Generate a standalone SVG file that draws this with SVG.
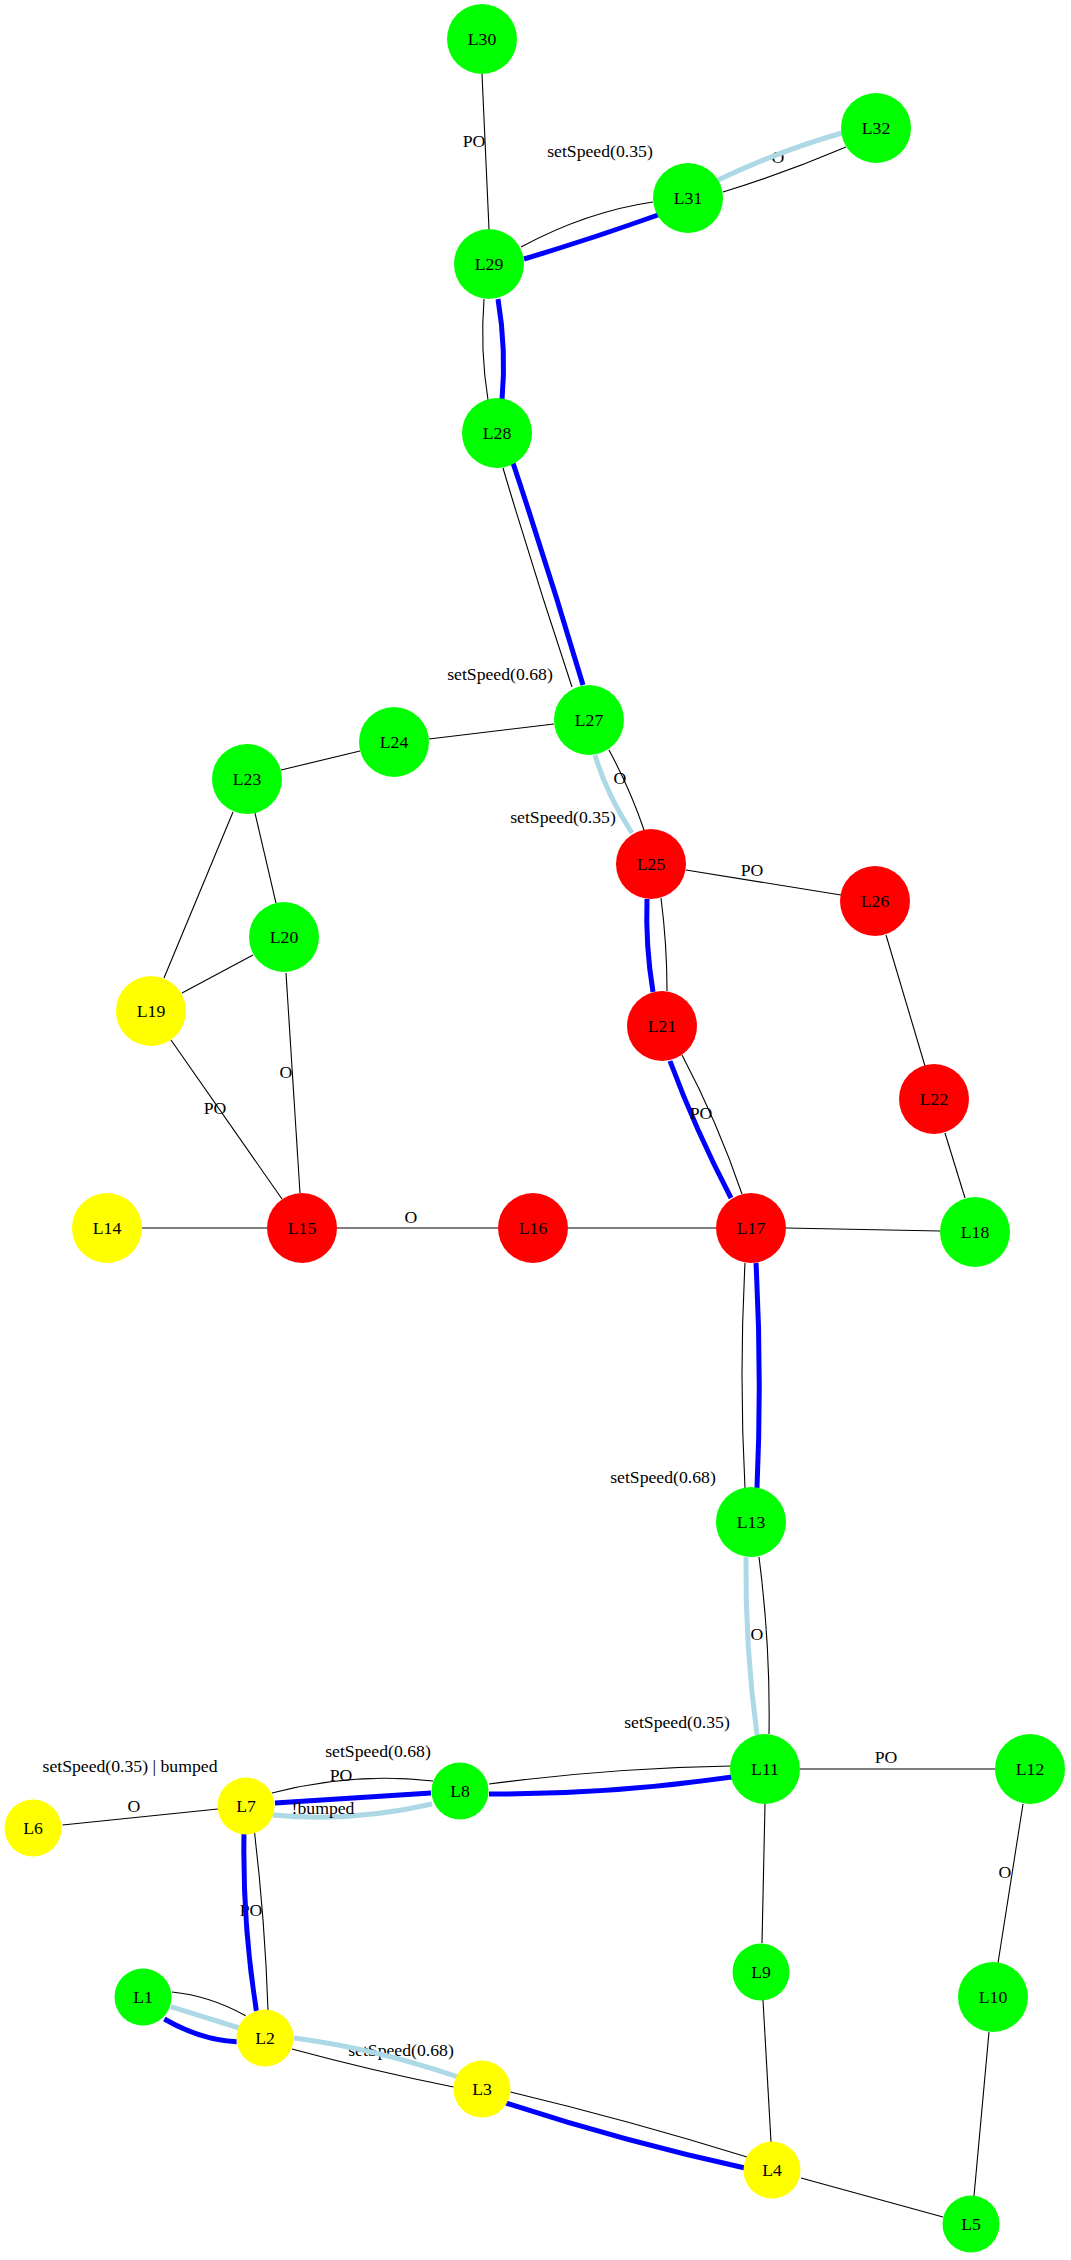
<svg xmlns="http://www.w3.org/2000/svg" width="1071" height="2260" viewBox="0 0 1071 2260">
  <style>
    .e { fill: none; stroke: #000000; stroke-width: 1.1; }
    .b { fill: none; stroke: #0000ff; stroke-width: 5; }
    .lb { fill: none; stroke: #add8e6; stroke-width: 5; }
    .t { font-family: "Liberation Serif", "Times New Roman", serif; font-size: 17.7px; fill: #000000; text-anchor: middle; }
    .g { fill: #00ff00; }
    .r { fill: #ff0000; }
    .y { fill: #ffff00; }
  </style>
  <rect width="1071" height="2260" fill="#ffffff"/>

  <!-- connectors -->
  <g id="connectors">
    <!-- L30 - L29 -->
    <path class="e" d="M482,74 L489,229"/>
    <text class="t" x="474" y="147">PO</text>
    <!-- L29 - L31 -->
    <path class="e" d="M521,247 Q587,211.5 653,202"/>
    <text class="t" x="600" y="157">setSpeed(0.35)</text>
    <path class="b" d="M524,259 Q591,239 658,215"/>
    <!-- L31 - L32 -->
    <path class="e" d="M723,192 Q785,173 846,147"/>
    <text class="t" x="778" y="163">O</text>
    <path class="lb" d="M718,180 Q780,150.5 842,133"/>
    <!-- L29 - L28 -->
    <path class="e" d="M484,299 Q480,350 488,400"/>
    <path class="b" d="M498,299 Q506.5,350 502,400"/>
    <!-- L28 - L27 -->
    <path class="e" d="M503,468 Q535.5,577.5 572,687"/>
    <text class="t" x="500" y="680">setSpeed(0.68)</text>
    <path class="b" d="M513,463 Q550,574 583,685"/>
    <!-- L24 - L27, L23 - L24 -->
    <path class="e" d="M429,739 L554,724"/>
    <path class="e" d="M281,770 L360,751"/>
    <!-- L23 - L19, L23 - L20, L20 - L19 -->
    <path class="e" d="M233,812 L164,978"/>
    <path class="e" d="M255,813 L276,903"/>
    <path class="e" d="M253,955 L182,993"/>
    <!-- L20 - L15 -->
    <path class="e" d="M286,973 L300,1193"/>
    <text class="t" x="286" y="1078">O</text>
    <!-- L19 - L15 -->
    <path class="e" d="M171,1040 L282,1199"/>
    <text class="t" x="215" y="1114">PO</text>
    <!-- L14 - L15, L15 - L16, L16 - L17, L17 - L18 -->
    <path class="e" d="M142,1228 L267,1228"/>
    <path class="e" d="M337,1228 L498,1228"/>
    <text class="t" x="411" y="1223">O</text>
    <path class="e" d="M568,1228 L716,1228"/>
    <path class="e" d="M786,1228 L940,1231"/>
    <!-- L27 - L25 -->
    <path class="e" d="M609,750 Q630.5,790 644,830"/>
    <text class="t" x="620" y="784">O</text>
    <path class="lb" d="M595,755 Q606.5,794 632,833"/>
    <text class="t" x="563" y="823">setSpeed(0.35)</text>
    <!-- L25 - L26 -->
    <path class="e" d="M686,870 L841,895"/>
    <text class="t" x="752" y="876">PO</text>
    <!-- L25 - L21 -->
    <path class="b" d="M647,899 Q645.4,945.5 653,992"/>
    <path class="e" d="M661,898 Q667,944.5 667,991"/>
    <!-- L21 - L17 -->
    <path class="b" d="M670,1061 Q696,1131 731,1198"/>
    <path class="e" d="M682,1055 Q717.5,1122 742,1194"/>
    <text class="t" x="701" y="1119">PO</text>
    <!-- L26 - L22, L22 - L18 -->
    <path class="e" d="M886,935 L925,1066"/>
    <path class="e" d="M945,1133 L965,1198"/>
    <!-- L17 - L13 -->
    <path class="e" d="M745,1263 Q739,1375.5 745,1488"/>
    <path class="b" d="M756,1263 Q762,1375.5 757,1488"/>
    <text class="t" x="663" y="1483">setSpeed(0.68)</text>
    <!-- L13 - L11 -->
    <path class="lb" d="M746,1557 Q745,1646 757,1735"/>
    <path class="e" d="M759,1557 Q770.5,1645.5 769,1734"/>
    <text class="t" x="757" y="1640">O</text>
    <text class="t" x="677" y="1728">setSpeed(0.35)</text>
    <!-- L11 - L12 -->
    <path class="e" d="M800,1769 L995,1769"/>
    <text class="t" x="886" y="1763">PO</text>
    <!-- L11 - L9, L9 - L4 -->
    <path class="e" d="M765,1804 L762,1943"/>
    <path class="e" d="M763,2000 L771,2142"/>
    <!-- L12 - L10, L10 - L5, L4 - L5 -->
    <path class="e" d="M1023,1804 L998,1963"/>
    <text class="t" x="1005" y="1878">O</text>
    <path class="e" d="M989,2032 L974,2196"/>
    <path class="e" d="M801,2178 L943,2217"/>
    <!-- L8 - L11 -->
    <path class="e" d="M489,1784 Q610,1768 731,1766"/>
    <path class="b" d="M489,1794 Q610.5,1794.5 732,1777"/>
    <!-- L6 - L7 -->
    <path class="e" d="M62.5,1825 L218,1809"/>
    <text class="t" x="134" y="1812">O</text>
    <text class="t" x="130" y="1772">setSpeed(0.35) | bumped</text>
    <!-- L7 - L8 -->
    <path class="e" d="M272,1793 Q352.5,1772 433,1781"/>
    <text class="t" x="378" y="1757">setSpeed(0.68)</text>
    <text class="t" x="341" y="1781">PO</text>
    <path class="b" d="M275,1803 Q353,1798 431,1793"/>
    <path class="lb" d="M273,1815 Q352.5,1822.5 432,1804"/>
    <text class="t" x="323" y="1814">!bumped</text>
    <!-- L7 - L2 -->
    <path class="e" d="M254.6,1833 Q265,1921.5 268,2010"/>
    <text class="t" x="251" y="1916">PO</text>
    <path class="b" d="M244,1834 Q242.4,1922.5 256.4,2011"/>
    <!-- L1 - L2 -->
    <path class="e" d="M172,1992 Q209,1995.5 245.7,2015.7"/>
    <path class="lb" d="M170.7,2006.7 Q205,2017.3 239.3,2028"/>
    <path class="b" d="M164.3,2019 Q200.5,2040 236.7,2041.7"/>
    <!-- L2 - L3 -->
    <path class="e" d="M292,2049 Q373,2071 453.6,2087"/>
    <text class="t" x="401" y="2056">setSpeed(0.68)</text>
    <path class="lb" d="M294,2038 Q375,2048.5 458,2077"/>
    <!-- L3 - L4 -->
    <path class="e" d="M510.5,2092 Q629.5,2120.5 747,2157"/>
    <path class="b" d="M506,2103 Q625.5,2142 745,2168"/>
  </g>

  <!-- nodes -->
  <g id="L1"><circle class="g" cx="143" cy="1997" r="28.5"/><text class="t" x="143" y="2003">L1</text></g>
  <g id="L2"><circle class="y" cx="265" cy="2038" r="28.5"/><text class="t" x="265" y="2044">L2</text></g>
  <g id="L3"><circle class="y" cx="482" cy="2089" r="28.5"/><text class="t" x="482" y="2095">L3</text></g>
  <g id="L4"><circle class="y" cx="772" cy="2170" r="28.5"/><text class="t" x="772" y="2176">L4</text></g>
  <g id="L5"><circle class="g" cx="971" cy="2224" r="28.5"/><text class="t" x="971" y="2230">L5</text></g>
  <g id="L6"><circle class="y" cx="33" cy="1828" r="28.5"/><text class="t" x="33" y="1834">L6</text></g>
  <g id="L7"><circle class="y" cx="246" cy="1806" r="28.5"/><text class="t" x="246" y="1812">L7</text></g>
  <g id="L8"><circle class="g" cx="460" cy="1791" r="28.5"/><text class="t" x="460" y="1797">L8</text></g>
  <g id="L9"><circle class="g" cx="761" cy="1972" r="28.5"/><text class="t" x="761" y="1978">L9</text></g>
  <g id="L10"><circle class="g" cx="993" cy="1997" r="35"/><text class="t" x="993" y="2003">L10</text></g>
  <g id="L11"><circle class="g" cx="765" cy="1769" r="35"/><text class="t" x="765" y="1775">L11</text></g>
  <g id="L12"><circle class="g" cx="1030" cy="1769" r="35"/><text class="t" x="1030" y="1775">L12</text></g>
  <g id="L13"><circle class="g" cx="751" cy="1522" r="35"/><text class="t" x="751" y="1528">L13</text></g>
  <g id="L14"><circle class="y" cx="107" cy="1228" r="35"/><text class="t" x="107" y="1234">L14</text></g>
  <g id="L15"><circle class="r" cx="302" cy="1228" r="35"/><text class="t" x="302" y="1234">L15</text></g>
  <g id="L16"><circle class="r" cx="533" cy="1228" r="35"/><text class="t" x="533" y="1234">L16</text></g>
  <g id="L17"><circle class="r" cx="751" cy="1228" r="35"/><text class="t" x="751" y="1234">L17</text></g>
  <g id="L18"><circle class="g" cx="975" cy="1232" r="35"/><text class="t" x="975" y="1238">L18</text></g>
  <g id="L19"><circle class="y" cx="151" cy="1011" r="35"/><text class="t" x="151" y="1017">L19</text></g>
  <g id="L20"><circle class="g" cx="284" cy="937" r="35"/><text class="t" x="284" y="943">L20</text></g>
  <g id="L21"><circle class="r" cx="662" cy="1026" r="35"/><text class="t" x="662" y="1032">L21</text></g>
  <g id="L22"><circle class="r" cx="934" cy="1099" r="35"/><text class="t" x="934" y="1105">L22</text></g>
  <g id="L23"><circle class="g" cx="247" cy="779" r="35"/><text class="t" x="247" y="785">L23</text></g>
  <g id="L24"><circle class="g" cx="394" cy="742" r="35"/><text class="t" x="394" y="748">L24</text></g>
  <g id="L25"><circle class="r" cx="651" cy="864" r="35"/><text class="t" x="651" y="870">L25</text></g>
  <g id="L26"><circle class="r" cx="875" cy="901" r="35"/><text class="t" x="875" y="907">L26</text></g>
  <g id="L27"><circle class="g" cx="589" cy="720" r="35"/><text class="t" x="589" y="726">L27</text></g>
  <g id="L28"><circle class="g" cx="497" cy="433" r="35"/><text class="t" x="497" y="439">L28</text></g>
  <g id="L29"><circle class="g" cx="489" cy="264" r="35"/><text class="t" x="489" y="270">L29</text></g>
  <g id="L30"><circle class="g" cx="482" cy="39" r="35"/><text class="t" x="482" y="45">L30</text></g>
  <g id="L31"><circle class="g" cx="688" cy="198" r="35"/><text class="t" x="688" y="204">L31</text></g>
  <g id="L32"><circle class="g" cx="876" cy="128" r="35"/><text class="t" x="876" y="134">L32</text></g>
</svg>
